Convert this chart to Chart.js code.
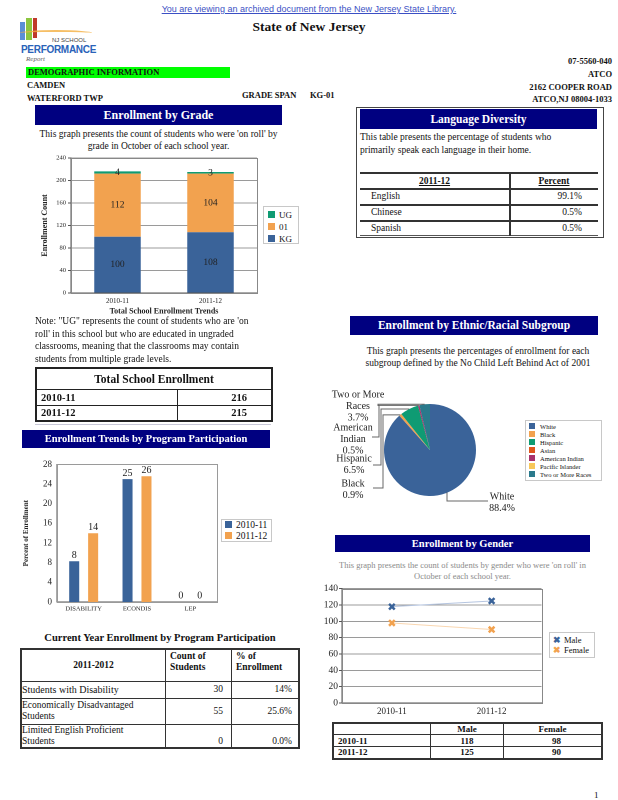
<!DOCTYPE html>
<html lang="en">
<head>
<meta charset="UTF-8">
<title>NJ School Performance Report - Demographic Information</title>
<script src="https://cdn.jsdelivr.net/npm/chart.js"></script>
<style>
    body { margin: 0; background: #fff; font-family: "Liberation Serif", serif; color: #111; }
    #page { position: relative; width: 618px; height: 800px; overflow: hidden; }
    .abs { position: absolute; }
    .b { font-weight: bold; }
    .navy { background: #000080; color: #fff; font-weight: bold; text-align: center; }
    canvas.abs { display: block; }
    .legend { border: 1px solid #c8c8c8; background: #fff; font-size: 9px; line-height: 12px; padding: 2px 4px; box-sizing: border-box; white-space: nowrap; }
    .legend span.sw { display: inline-block; width: 7px; height: 7px; margin-right: 4px; vertical-align: -0px; }
    table { border-collapse: collapse; }
    td { padding: 0 4px; }
</style>
</head>
<body>
<div id="page">
    <!-- header -->
    <div class="abs" style="left:0;width:618px;top:4px;text-align:center;font:9px 'Liberation Sans',sans-serif;color:#3b4fc4;text-decoration:underline;">You are viewing an archived document from the New Jersey State Library.</div>
    <div class="abs b" style="left:0;width:618px;top:19px;text-align:center;font-size:13.5px;">State of New Jersey</div>

    <!-- logo -->
    <div class="abs" style="left:20px;top:22px;width:5px;height:18px;background:#5b8fd6;"></div>
    <div class="abs" style="left:26px;top:18px;width:6px;height:22px;background:#8cc63f;"></div>
    <div class="abs" style="left:33px;top:18px;width:4px;height:20px;background:#c0392b;"></div>
    <div class="abs" style="left:20px;top:30px;width:72px;height:4px;border-top:2px solid #f5b041;border-radius:50% 50% 0 0;opacity:.8;"></div>
    <div class="abs" style="left:52px;top:37px;font:6px 'Liberation Sans',sans-serif;color:#444;">NJ SCHOOL</div>
    <div class="abs" style="left:21px;top:44px;font:bold 10px 'Liberation Sans',sans-serif;color:#2a62b8;letter-spacing:-0.3px;">PERFORMANCE</div>
    <div class="abs" style="left:26px;top:55px;font:italic 7px 'Liberation Serif',serif;color:#666;">Report</div>

    <div class="abs b" style="left:26px;top:67px;width:204px;height:11px;background:#00ff00;font-size:8.5px;line-height:11px;padding-left:2px;box-sizing:border-box;">DEMOGRAPHIC INFORMATION</div>
    <div class="abs b" style="left:27px;top:80px;font-size:8.5px;">CAMDEN</div>
    <div class="abs b" style="left:27px;top:93px;font-size:8.5px;">WATERFORD TWP</div>
    <div class="abs b" style="left:242px;top:90px;font-size:8.5px;">GRADE SPAN</div>
    <div class="abs b" style="left:310px;top:90px;font-size:8.5px;">KG-01</div>
    <div class="abs b" style="right:6px;top:55px;font-size:8.5px;line-height:12.8px;text-align:right;">07-5560-040<br>ATCO<br>2162 COOPER ROAD<br>ATCO,NJ 08004-1033</div>

    <!-- Enrollment by grade -->
    <div class="abs navy" style="left:35px;top:105px;width:247px;height:20px;font-size:12px;line-height:20px;">Enrollment by Grade</div>
    <div class="abs" style="left:30px;width:257px;top:128px;text-align:center;font-size:9.5px;line-height:12px;">This graph presents the count of students who were 'on roll' by<br>grade in October of each school year.</div>
    <canvas id="gradeChart" class="abs" style="left:40px;top:152px;width:220px;height:164px;"></canvas>
    <div class="abs legend" style="left:263px;top:206px;width:36px;height:38px;">
        <div><span class="sw" style="background:#0f9b73"></span>UG</div>
        <div><span class="sw" style="background:#f2a24f"></span>01</div>
        <div><span class="sw" style="background:#3a6399"></span>KG</div>
    </div>
    <div class="abs" style="left:35px;top:315px;font-size:9.5px;line-height:12.6px;">Note: "UG" represents the count of students who are 'on<br>roll' in this school but who are educated in ungraded<br>classrooms, meaning that the classrooms may contain<br>students from multiple grade levels.</div>

    <table class="abs" style="left:35px;top:367px;width:238px;border:2px solid #222;font-size:10.5px;">
        <tr style="height:21px;"><td colspan="2" class="b" style="text-align:center;font-size:11.5px;border:1.5px solid #222;">Total School Enrollment</td></tr>
        <tr style="height:16px;"><td class="b" style="border:1.5px solid #222;width:132px;">2010-11</td><td class="b" style="border:1.5px solid #222;text-align:right;padding-right:24px;">216</td></tr>
        <tr style="height:16px;"><td class="b" style="border:1.5px solid #222;">2011-12</td><td class="b" style="border:1.5px solid #222;text-align:right;padding-right:24px;">215</td></tr>
    </table>
    <div class="abs" style="left:35px;top:424px;width:236px;height:1px;background:#c8c8d8;"></div>

    <!-- Program participation -->
    <div class="abs navy" style="left:22px;top:430px;width:248px;height:18px;font-size:10.5px;line-height:18px;">Enrollment Trends by Program Participation</div>
    <canvas id="programChart" class="abs" style="left:22px;top:457px;width:198px;height:157px;"></canvas>
    <div class="abs legend" style="left:221px;top:519px;width:51px;height:23px;padding:0 3px;line-height:10.5px;font-size:9.5px;">
        <div><span class="sw" style="background:#3a6399"></span>2010-11</div>
        <div><span class="sw" style="background:#f2a24f"></span>2011-12</div>
    </div>

    <div class="abs b" style="left:20px;width:280px;top:632px;text-align:center;font-size:10.5px;">Current Year Enrollment by Program Participation</div>
    <table class="abs" style="left:20px;top:648px;width:280px;border:2px solid #333;font-size:9.5px;line-height:11px;">
        <tr style="height:32px;">
            <td class="b" style="border:1px solid #333;width:135px;text-align:center;">2011-2012</td>
            <td class="b" style="border:1px solid #333;width:57px;vertical-align:top;padding-top:1px;">Count of<br>Students</td>
            <td class="b" style="border:1px solid #333;vertical-align:top;padding-top:1px;">% of<br>Enrollment</td>
        </tr>
        <tr style="height:17px;">
            <td style="border:1px solid #333;padding:0;font-size:10px;">Students with Disability</td>
            <td style="border:1px solid #333;text-align:right;padding-right:8px;">30</td>
            <td style="border:1px solid #333;text-align:right;padding-right:6px;">14%</td>
        </tr>
        <tr style="height:26px;">
            <td style="border:1px solid #333;padding:0;">Economically Disadvantaged<br>Students</td>
            <td style="border:1px solid #333;text-align:right;padding-right:8px;">55</td>
            <td style="border:1px solid #333;text-align:right;padding-right:6px;">25.6%</td>
        </tr>
        <tr style="height:22px;">
            <td style="border:1px solid #333;padding:0;">Limited English Proficient<br>Students</td>
            <td style="border:1px solid #333;text-align:right;padding-right:8px;vertical-align:bottom;">0</td>
            <td style="border:1px solid #333;text-align:right;padding-right:6px;vertical-align:bottom;">0.0%</td>
        </tr>
    </table>

    <!-- Language diversity -->
    <div class="abs" style="left:356px;top:107px;width:248px;height:131px;border:1.5px solid #444;box-sizing:border-box;"></div>
    <div class="abs navy" style="left:360px;top:109px;width:237px;height:20px;font-size:11.5px;line-height:20px;">Language Diversity</div>
    <div class="abs" style="left:360px;top:131px;font-size:9.5px;line-height:13px;">This table presents the percentage of students who<br>primarily speak each language in their home.</div>
    <div class="abs" style="left:360px;top:172px;width:238px;height:2px;background:#333;"></div>
    <div class="abs" style="left:360px;top:188px;width:238px;height:2px;background:#333;"></div>
    <div class="abs" style="left:360px;top:204px;width:238px;height:2px;background:#333;"></div>
    <div class="abs" style="left:360px;top:220px;width:238px;height:2px;background:#333;"></div>
    <div class="abs" style="left:360px;top:235px;width:238px;height:1px;background:#555;"></div>
    <div class="abs" style="left:509px;top:172px;width:1.5px;height:64px;background:#333;"></div>
    <div class="abs b" style="left:360px;width:149px;top:176px;text-align:center;font-size:9.5px;text-decoration:underline;">2011-12</div>
    <div class="abs b" style="left:510px;width:88px;top:176px;text-align:center;font-size:9.5px;text-decoration:underline;">Percent</div>
    <div class="abs" style="left:371px;top:188px;font-size:9.5px;line-height:16px;">English<br>Chinese<br>Spanish</div>
    <div class="abs" style="left:510px;width:72px;top:188px;text-align:right;font-size:9.5px;line-height:16px;">99.1%<br>0.5%<br>0.5%</div>

    <!-- Ethnic -->
    <div class="abs navy" style="left:350px;top:316px;width:248px;height:19px;font-size:11.5px;line-height:19px;">Enrollment by Ethnic/Racial Subgroup</div>
    <div class="abs" style="left:340px;width:276px;top:345px;text-align:center;font-size:9.5px;line-height:12px;">This graph presents the percentages of enrollment for each<br>subgroup defined by the No Child Left Behind Act of 2001</div>
    <canvas id="ethnicChart" class="abs" style="left:330px;top:385px;width:195px;height:130px;"></canvas>
    <div class="abs legend" id="ethnicLegend" style="left:525px;top:420px;width:77px;height:61px;font-size:6.5px;line-height:8px;padding:2px 3px;"></div>

    <!-- Gender -->
    <div class="abs navy" style="left:335px;top:535px;width:255px;height:17px;font-size:10.5px;line-height:17px;">Enrollment by Gender</div>
    <div class="abs" style="left:330px;width:265px;top:560px;text-align:center;font-size:8.5px;line-height:10.5px;color:#8a8a8a;">This graph presents the count of students by gender who were 'on roll' in<br>October of each school year.</div>
    <canvas id="genderChart" class="abs" style="left:320px;top:582px;width:228px;height:136px;"></canvas>
    <div class="abs legend" style="left:549px;top:632px;width:46px;height:26px;line-height:10px;padding:2px 3px;font-size:8.5px;">
        <div><span style="color:#3a6399;font-weight:bold;margin-right:3px;">&#x2716;</span>Male</div>
        <div><span style="color:#f2a24f;font-weight:bold;margin-right:3px;">&#x2716;</span>Female</div>
    </div>
    <table class="abs" style="left:332px;top:722px;width:271px;border:2px solid #333;font-size:9px;font-weight:bold;">
        <tr style="height:11px;"><td style="border:1.5px solid #333;width:88px;"></td><td style="border:1.5px solid #333;width:64px;text-align:center;">Male</td><td style="border:1.5px solid #333;text-align:center;">Female</td></tr>
        <tr style="height:12px;"><td style="border:1.5px solid #333;">2010-11</td><td style="border:1.5px solid #333;text-align:center;">118</td><td style="border:1.5px solid #333;text-align:right;padding-right:40px;">98</td></tr>
        <tr style="height:12px;"><td style="border:1.5px solid #333;">2011-12</td><td style="border:1.5px solid #333;text-align:center;">125</td><td style="border:1.5px solid #333;text-align:right;padding-right:40px;">90</td></tr>
    </table>

    <div class="abs" style="left:594px;top:790px;font-size:9px;">1</div>
</div>

<script>
    // ---- data ----
    const gradeYears = ['2010-11', '2011-12'];
    const gradeKG = [100, 108];
    const grade01 = [112, 104];
    const gradeUG = [4, 3];

    const programCats = ['DISABILITY', 'ECONDIS', 'LEP'];
    const program1011 = [8.3, 25, 0];
    const program1112 = [14, 25.6, 0];

    const ethnicLabels = ['White', 'Black', 'Hispanic', 'Asian', 'American Indian', 'Pacific Islander', 'Two or More Races'];
    const ethnicPct = [88.4, 0.9, 6.5, 0, 0.5, 0, 3.7];

    const genderYears = ['2010-11', '2011-12'];
    const genderMale = [118, 125];
    const genderFemale = [98, 90];

    // ---- colours ----
    const blue = '#3a6399';
    const orange = '#f2a24f';
    const green = '#0f9b73';
    const ethnicColors = ['#3a6399', '#f2a24f', '#0f9b73', '#e0561c', '#a8326c', '#f8c85a', '#2a7a8c'];

    Chart.defaults.font.family = "'Liberation Serif', serif";
    Chart.defaults.color = '#222';
    Chart.defaults.animation = false;
    Chart.defaults.plugins.legend.display = false;
    Chart.defaults.plugins.tooltip.enabled = false;

    // box around the plot area
    const plotFrame = {
        id: 'plotFrame',
        afterDraw(chart, args, opts) {
            if (!opts.color) return;
            const a = chart.chartArea, ctx = chart.ctx;
            ctx.save();
            ctx.strokeStyle = opts.color;
            ctx.lineWidth = 1;
            ctx.strokeRect(Math.round(a.left) + 0.5, Math.round(a.top) + 0.5, Math.round(a.right - a.left), Math.round(a.bottom - a.top));
            ctx.restore();
        }
    };

    // numbers on bars
    const barValues = {
        id: 'barValues',
        afterDatasetsDraw(chart, args, opts) {
            if (!opts.mode) return;
            const ctx = chart.ctx;
            ctx.save();
            ctx.font = opts.font;
            ctx.fillStyle = '#222';
            ctx.textAlign = 'center';
            chart.data.datasets.forEach((ds, di) => {
                chart.getDatasetMeta(di).data.forEach((bar, i) => {
                    const txt = String(Math.round(ds.data[i]));
                    if (opts.mode === 'inside') {
                        ctx.textBaseline = 'middle';
                        ctx.fillText(txt, bar.x, (bar.y + bar.base) / 2);
                    } else {
                        ctx.textBaseline = 'bottom';
                        ctx.fillText(txt, bar.x, bar.y - 1);
                    }
                });
            });
            ctx.restore();
        }
    };
    Chart.register(plotFrame, barValues);

    const fixW = w => s => { s.width = w; };
    const fixH = h => s => { s.height = h; };

    // Enrollment by Grade
    new Chart(document.getElementById('gradeChart'), {
        type: 'bar',
        data: {
            labels: gradeYears,
            datasets: [
                { label: 'KG', data: gradeKG, backgroundColor: blue },
                { label: '01', data: grade01, backgroundColor: orange },
                { label: 'UG', data: gradeUG, backgroundColor: green }
            ]
        },
        options: {
            responsive: false,
            devicePixelRatio: 2,
            layout: { padding: { top: 5, right: 3 } },
            datasets: { bar: { barPercentage: 0.5, categoryPercentage: 1 } },
            plugins: {
                plotFrame: { color: '#888' },
                barValues: { mode: 'inside', font: "9.5px 'Liberation Serif'" }
            },
            scales: {
                x: {
                    stacked: true,
                    grid: { display: false, drawTicks: false },
                    border: { color: '#555' },
                    ticks: { font: { size: 7 }, padding: 4 },
                    title: { display: true, text: 'Total School Enrollment Trends', font: { size: 8, weight: 'bold' }, padding: 0 },
                    afterFit: fixH(23)
                },
                y: {
                    stacked: true,
                    min: 0, max: 240,
                    grid: { color: '#9a9a9a', tickLength: 3, tickColor: '#555' },
                    border: { color: '#555' },
                    ticks: { stepSize: 40, font: { size: 6.5 }, padding: 2 },
                    title: { display: true, text: 'Enrollment Count', font: { size: 8, weight: 'bold' }, padding: 0 },
                    afterFit: fixW(31)
                }
            }
        }
    });

    // Enrollment trends by program
    new Chart(document.getElementById('programChart'), {
        type: 'bar',
        data: {
            labels: programCats,
            datasets: [
                { label: '2010-11', data: program1011, backgroundColor: blue },
                { label: '2011-12', data: program1112, backgroundColor: orange }
            ]
        },
        options: {
            responsive: false,
            devicePixelRatio: 2,
            layout: { padding: { top: 6, right: 3 } },
            datasets: { bar: { barPercentage: 0.53, categoryPercentage: 0.71 } },
            plugins: {
                plotFrame: { color: '#9a9a9a' },
                barValues: { mode: 'above', font: "10px 'Liberation Serif'" }
            },
            scales: {
                x: {
                    grid: { display: false, drawTicks: false },
                    border: { color: '#555' },
                    ticks: { font: { size: 6.5 }, padding: 3 },
                    afterFit: fixH(12)
                },
                y: {
                    min: 0, max: 28,
                    grid: { display: false, tickLength: 3 },
                    border: { color: '#555' },
                    ticks: { stepSize: 4, font: { size: 9 }, padding: 2 },
                    title: { display: true, text: 'Percent of Enrollment', font: { size: 7, weight: 'bold' }, padding: 0 },
                    afterFit: fixW(35)
                }
            }
        }
    });

    // Ethnic pie, labels with elbow leader lines (page coords of label text)
    const pieLabelLayout = {
        6: { cx: 358, top: 390, lx: 378, ly: 406, ex: 378 },
        4: { cx: 353, top: 423, lx: 372, ly: 437, ex: 379 },
        2: { cx: 354, top: 454, lx: 373, ly: 465, ex: 381 },
        1: { cx: 353, top: 479, lx: 373, ly: 488, ex: 383 },
        0: { cx: 502, top: 492, lx: 488, ly: 501, ex: 447 }
    };
    const pieCanvasLeft = 330, pieCanvasTop = 385;

    const pieLabels = {
        id: 'pieLabels',
        afterDatasetsDraw(chart) {
            const ctx = chart.ctx;
            const meta = chart.getDatasetMeta(0);
            ctx.save();
            ctx.font = "10px 'Liberation Serif'";
            ctx.fillStyle = '#222';
            ctx.textAlign = 'center';
            ctx.textBaseline = 'top';
            ctx.strokeStyle = '#666';
            ctx.lineWidth = 1;
            Object.keys(pieLabelLayout).forEach(k => {
                const i = +k, L = pieLabelLayout[k];
                const arc = meta.data[i];
                const mid = (arc.startAngle + arc.endAngle) / 2;
                const px = arc.x + Math.cos(mid) * arc.outerRadius;
                const py = arc.y + Math.sin(mid) * arc.outerRadius;
                const lx = L.lx - pieCanvasLeft, ly = L.ly - pieCanvasTop, ex = L.ex - pieCanvasLeft;
                ctx.beginPath();
                ctx.moveTo(lx, ly);
                ctx.lineTo(ex, ly);
                ctx.lineTo(ex, py);
                ctx.lineTo(px, py);
                ctx.stroke();
                // wrap name
                const words = ethnicLabels[i].split(' ');
                const lines = [];
                let cur = '';
                words.forEach(w => {
                    const t = cur ? cur + ' ' + w : w;
                    if (cur && ctx.measureText(t).width > 60) { lines.push(cur); cur = w; } else cur = t;
                });
                lines.push(cur);
                lines.push(ethnicPct[i].toFixed(1) + '%');
                lines.forEach((t, j) => ctx.fillText(t, L.cx - pieCanvasLeft, L.top - pieCanvasTop + j * 11.5));
            });
            ctx.restore();
        }
    };

    new Chart(document.getElementById('ethnicChart'), {
        type: 'pie',
        data: {
            labels: ethnicLabels,
            datasets: [{ data: ethnicPct, backgroundColor: ethnicColors, borderWidth: 0 }]
        },
        options: {
            responsive: false,
            devicePixelRatio: 2,
            layout: { padding: { left: 54, top: 19, right: 49, bottom: 19 } }
        },
        plugins: [pieLabels]
    });

    document.getElementById('ethnicLegend').innerHTML = ethnicLabels.map((l, i) =>
        '<div><span class="sw" style="background:' + ethnicColors[i] + ';width:6px;height:6px;margin-right:5px;"></span>' + l + '</div>'
    ).join('');

    // Enrollment by gender
    new Chart(document.getElementById('genderChart'), {
        type: 'line',
        data: {
            labels: genderYears,
            datasets: [
                { label: 'Male', data: genderMale, borderColor: '#b5c5e0', pointBorderColor: blue, pointBackgroundColor: blue },
                { label: 'Female', data: genderFemale, borderColor: '#f9d6b0', pointBorderColor: orange, pointBackgroundColor: orange }
            ]
        },
        options: {
            responsive: false,
            devicePixelRatio: 2,
            layout: { padding: { top: 5, right: 3 } },
            elements: {
                line: { borderWidth: 1, tension: 0 },
                point: { pointStyle: 'crossRot', radius: 4, borderWidth: 2.5 }
            },
            plugins: { plotFrame: { color: '#888' } },
            scales: {
                x: {
                    offset: true,
                    grid: { display: false, drawTicks: false },
                    border: { color: '#555' },
                    ticks: { font: { size: 9 }, padding: 3 },
                    afterFit: fixH(15)
                },
                y: {
                    min: 0, max: 140,
                    grid: { color: '#9a9a9a', tickLength: 3, tickColor: '#555' },
                    border: { color: '#555' },
                    ticks: { stepSize: 20, font: { size: 9.5 }, padding: 1 },
                    afterFit: fixW(22)
                }
            }
        }
    });
</script>
</body>
</html>
